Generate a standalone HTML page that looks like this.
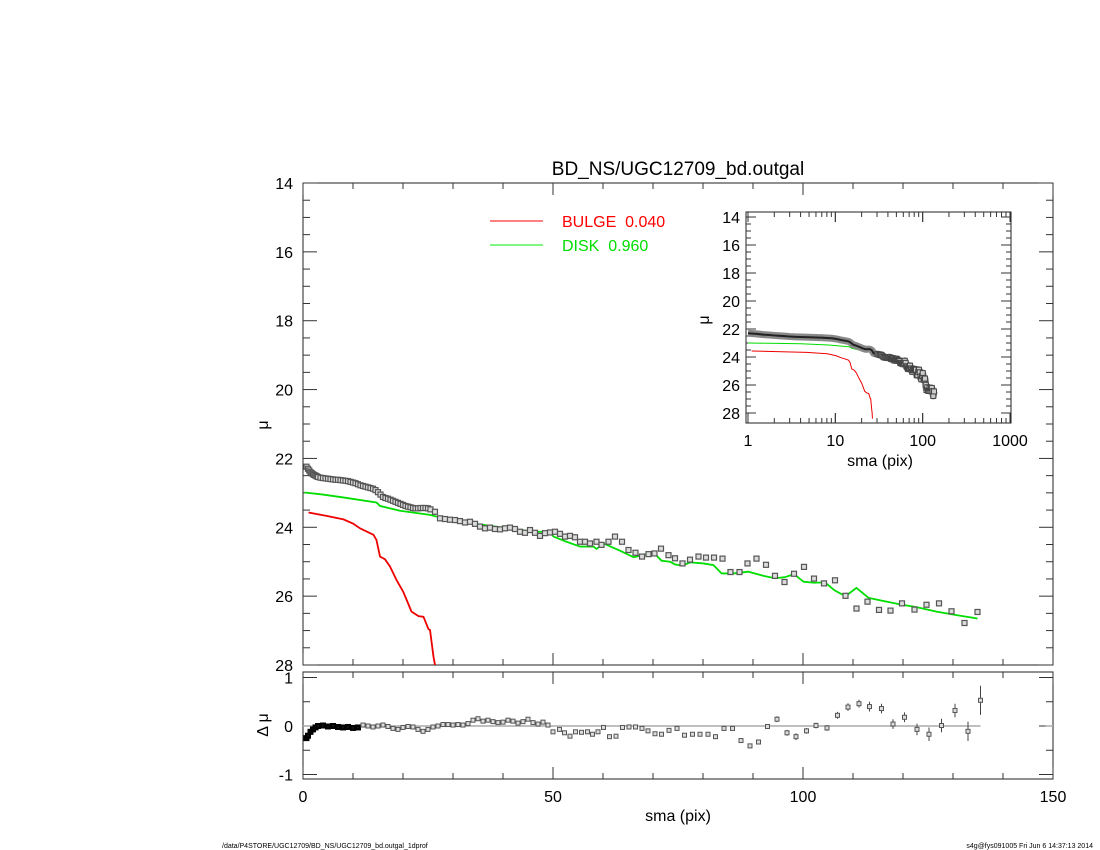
<!DOCTYPE html>
<html><head><meta charset="utf-8">
<style>
html,body{margin:0;padding:0;background:#fff;}
svg{display:block;font-family:"Liberation Sans",sans-serif;}
</style></head>
<body>
<svg id="chart" width="1100" height="850" viewBox="0 0 1100 850" xmlns="http://www.w3.org/2000/svg">
<rect x="0" y="0" width="1100" height="850" fill="#fff"/>
<text x="678" y="175" font-size="19" text-anchor="middle">BD_NS/UGC12709_bd.outgal</text>
<g id="main"></g>
<g id="resid"></g>
<g id="inset"></g>
<line x1="490" y1="221" x2="543" y2="221" stroke="#ff0000" stroke-width="1"/>
<text x="562" y="227" font-size="16" fill="#ff0000">BULGE&#160;&#160;0.040</text>
<line x1="490" y1="245" x2="543" y2="245" stroke="#00ee00" stroke-width="1"/>
<text x="562" y="251" font-size="16" fill="#00dd00">DISK&#160;&#160;0.960</text>
<text transform="translate(268,425) rotate(-90)" font-size="16" text-anchor="middle">μ</text>
<text transform="translate(268,725) rotate(-90)" font-size="16" text-anchor="middle">Δ μ</text>
<text x="678" y="821" font-size="16" text-anchor="middle">sma (pix)</text>
<text x="880" y="466" font-size="16" text-anchor="middle">sma (pix)</text>
<text transform="translate(709,320) rotate(-90)" font-size="16" text-anchor="middle">μ</text>
<text x="222" y="848" font-size="7">/data/P4STORE/UGC12709/BD_NS/UGC12709_bd.outgal_1dprof</text>
<text x="1093" y="848" font-size="7" text-anchor="end">s4g@fys091005  Fri Jun  6 14:37:13 2014</text>
</svg>
<script>
const obsX=[0.7,1,1.25,1.5,1.75,2,2.25,2.5,2.75,3,3.5,4,4.5,5,5.5,6,6.5,7,7.5,8,8.5,9,9.5,10,10.5,11,11.5,12,12.5,13,13.5,14,14.5,15,15.5,16,16.5,17,17.5,18,18.5,19,19.5,20,20.5,21,21.5,22,22.5,23,23.5,24,24.5,25,25.5,26.4,27.4,28.4,29.4,30.4,31.4,32.4,33.4,34.4,35.4,36.4,37.4,38.4,39.4,40.4,41.4,42.4,43.4,44.4,45.4,46.4,47.4,48.4,49.4,50.4,51.4,52.4,53.4,54.4,55.4,56.4,57.4,58.7,59.7,61.1,62.4,63.8,65.1,66.5,67.8,69.1,70.3,71.6,73.1,74.4,75.9,77.4,79.1,80.6,82.2,83.9,85.5,87.3,88.9,90.7,92.6,94.4,96.3,98.2,100.2,102.2,104.2,106.4,108.5,110.7,112.9,115.2,117.5,119.8,122.3,124.7,127.2,129.7,132.3,134.9];
const obsMu=[22.24,22.3,22.35,22.4,22.43,22.46,22.48,22.5,22.52,22.54,22.56,22.57,22.58,22.59,22.6,22.61,22.62,22.62,22.63,22.64,22.65,22.66,22.68,22.7,22.72,22.75,22.78,22.8,22.82,22.84,22.86,22.88,22.92,22.98,23.05,23.12,23.15,23.17,23.2,23.23,23.26,23.29,23.32,23.35,23.38,23.4,23.42,23.44,23.45,23.45,23.44,23.44,23.44,23.45,23.48,23.55,23.74,23.76,23.78,23.79,23.82,23.86,23.84,23.9,23.98,24.03,24.01,24.05,24.06,24.03,24.01,24.05,24.13,24.16,24.08,24.16,24.25,24.17,24.15,24.13,24.19,24.27,24.25,24.29,24.42,24.42,24.47,24.42,24.51,24.42,24.27,24.42,24.66,24.74,24.85,24.78,24.76,24.62,24.81,24.9,25.05,24.94,24.85,24.88,24.88,24.91,25.3,25.3,25.05,24.91,25.09,25.41,25.59,25.35,25.15,25.49,25.63,25.54,25.99,26.36,26.16,26.4,26.42,26.21,26.39,26.25,26.21,26.44,26.78,26.46,27.12];
const diskX=[0.3,1,4,8.4,14.7,15.4,19.4,25.4,29.4,39.4,46.1,49.4,50.1,52.7,55.4,58.1,58.7,60.1,63.4,66.1,69.4,70.4,71.7,73.4,74.4,75.9,77.4,80.1,82.1,83.7,86.1,89.1,92.1,94.4,96.4,98.2,100.1,102.2,104.4,106.4,108.5,110.7,113.1,116.1,119.4,122.7,126.7,130.7,134.9];
const diskMu=[22.99,23.0,23.05,23.14,23.28,23.38,23.52,23.64,23.79,24.0,24.13,24.13,24.27,24.42,24.56,24.56,24.63,24.47,24.68,24.87,24.76,24.78,24.97,25.0,25.08,25.11,25.02,25.05,25.1,25.34,25.34,25.29,25.41,25.48,25.45,25.36,25.58,25.61,25.6,25.84,26.0,25.76,26.05,26.14,26.24,26.32,26.45,26.55,26.65];
const bulgeX=[1.1,4.7,8.1,10.1,11.4,14.1,14.7,15.4,16.4,17.4,18.7,20.1,21.7,23.1,24.1,25.1,25.4,26.1,26.4,26.6];
const bulgeMu=[23.57,23.67,23.77,23.9,24.03,24.22,24.37,24.85,24.93,25.14,25.53,25.89,26.45,26.58,26.6,26.96,26.98,27.76,28.0,28.4];
const resX=[0.7,1,1.5,2,2.5,3,4,5,6,7,8,9,10,11,12,13,14,15,16,17,18,19,20,21,22,23,24,25,26,27,28,29,30,31,32,33,34,35,36,37,38,39,40,41,42,43,44,45,46,47,48,49,50,51.3,52.3,53.4,54.5,55.7,56.9,57.9,59,60.1,61.3,62.6,63.9,65.2,66.5,67.8,69,70.4,71.7,73.2,74.8,76.3,77.9,79.4,81,82.5,84.2,85.9,87.6,89.4,91.1,92.9,94.8,96.8,98.6,100.7,102.6,104.8,106.9,109,111.2,113.3,115.7,118,120.3,122.8,125.2,127.7,130.4,133,135.5];
const resV=[-0.25,-0.2,-0.12,-0.07,-0.03,0,0.01,-0.01,0,-0.02,-0.03,-0.02,-0.04,-0.03,0.02,0,-0.02,0,0.02,-0.01,-0.05,-0.07,-0.03,-0.01,-0.02,-0.07,-0.11,-0.07,-0.02,0,0.03,0.03,0.02,0.03,0.02,0.05,0.12,0.15,0.1,0.12,0.09,0.07,0.08,0.12,0.1,0.06,0.09,0.14,0.07,0.04,0.08,0.02,-0.12,-0.07,-0.14,-0.21,-0.12,-0.13,-0.12,-0.17,-0.12,-0.03,-0.22,-0.21,-0.03,-0.02,-0.02,-0.05,-0.1,-0.16,-0.17,-0.09,-0.05,-0.19,-0.17,-0.17,-0.17,-0.22,-0.05,-0.05,-0.3,-0.41,-0.33,-0.01,0.14,-0.14,-0.22,-0.1,0.01,-0.04,0.22,0.39,0.46,0.4,0.36,0.04,0.18,-0.07,-0.17,0.01,0.32,-0.11,0.53];
const resE=[0,0,0,0,0,0,0,0,0,0,0,0,0,0,0,0,0,0,0,0,0,0,0,0,0,0,0,0,0,0,0,0,0,0,0,0,0,0,0,0,0,0,0,0,0,0,0,0,0,0,0,0,0.02,0.02,0.02,0.02,0.02,0.02,0.02,0.02,0.02,0.02,0.02,0.02,0.02,0.02,0.02,0.02,0.02,0.02,0.02,0.02,0.02,0.02,0.02,0.02,0.02,0.02,0.03,0.03,0.05,0.05,0.05,0.05,0.06,0.06,0.07,0.06,0.06,0.06,0.07,0.08,0.08,0.1,0.1,0.1,0.1,0.12,0.14,0.14,0.14,0.2,0.3];
const mainYTicks=[14,16,18,20,22,24,26,28];
const mainXTicks=[0,50,100,150];
const resYTicks=[1,0,-1];
const insetXTicks=[1,10,100,1000];

const NS="http://www.w3.org/2000/svg";
function mk(parent,tag,attrs){const e=document.createElementNS(NS,tag);for(const k in attrs)e.setAttribute(k,attrs[k]);parent.appendChild(e);return e;}
const L=303,R=1053,T=183,B=665;
const sx=v=>L+(v-0)/150*(R-L);
const sy=v=>T+(v-14)/14*(B-T);
const RT=672,RB=779;
const ry=v=>726-v*48.5;
const IL=746,IR=1011,IT=212,IB=423;
const ix=v=>IL+2+Math.log10(v)/3*(IR-IL-3);
const iy=v=>217+(v-14)*14;

const gm=document.getElementById('main');
const gr=document.getElementById('resid');
const gi=document.getElementById('inset');

function frame(g,x1,y1,x2,y2,name){const r=mk(g,'rect',{x:x1,y:y1,width:x2-x1,height:y2-y1,fill:'none',stroke:'#222','stroke-width':1});

}
frame(gm,L,T,R,B,'main-plot-frame');
frame(gr,L,RT,R,RB,'residual-plot-frame');
frame(gi,IL,IT,IR,IB,'inset-plot-frame');

function tick(g,x1,y1,x2,y2){mk(g,'line',{x1,y1,x2,y2,stroke:'#333','stroke-width':1});}
for(let v=0;v<=150;v+=10){const x=sx(v);const len=v%50===0?12:6;
 tick(gm,x,B,x,B-len);tick(gm,x,T,x,T+len);tick(gr,x,RB,x,RB-len);tick(gr,x,RT,x,RT+len);}
mainXTicks.forEach(v=>{const t=mk(gm,'text',{x:sx(v),y:802,'font-size':16,'text-anchor':'middle'});t.textContent=v;

});
for(let v=14;v<=28.001;v+=0.5){const y=sy(v);const len=(Math.abs(v%2)<0.01)?14:7;tick(gm,L,y,L+len,y);tick(gm,R,y,R-len,y);}
mainYTicks.forEach(v=>{const t=mk(gm,'text',{x:293,y:sy(v)+6,'font-size':16,'text-anchor':'end'});t.textContent=v;

});
for(let v=-1;v<=1.001;v+=0.5){const y=ry(v);const len=(Math.abs(v%1)<0.01)?14:7;tick(gr,L,y,L+len,y);tick(gr,R,y,R-len,y);}
resYTicks.forEach(v=>{const t=mk(gr,'text',{x:293,y:ry(v)+6,'font-size':16,'text-anchor':'end'});t.textContent=v===-1?'-1':v;

});
const zl=mk(gr,'line',{x1:sx(0),y1:ry(0),x2:sx(135.5),y2:ry(0),stroke:'#aaa','stroke-width':1.5});


mk(gr,'line',{x1:sx(148.5),y1:ry(0),x2:sx(150),y2:ry(0),stroke:'#aaa','stroke-width':1.5});

const defs=mk(document.getElementById('chart'),'defs',{});
const cp=mk(defs,'clipPath',{id:'cm'});mk(cp,'rect',{x:L,y:T,width:R-L,height:B-T});
const cp2=mk(defs,'clipPath',{id:'ci'});mk(cp2,'rect',{x:IL,y:IT,width:IR-IL,height:IB-IT});

function poly(g,xs,ys,fx,fy,color,w,name,clip){const p=mk(g,'polyline',{points:xs.map((x,i)=>fx(x)+','+fy(ys[i])).join(' '),fill:'none',stroke:color,'stroke-width':w,'stroke-linejoin':'round','clip-path':'url(#'+clip+')'});


return p;}
poly(gm,diskX,diskMu,sx,sy,'#00dd00',1.8,'disk-model-line','cm');
poly(gm,bulgeX,bulgeMu,sx,sy,'#ee0000',1.8,'bulge-model-line','cm');
obsX.forEach((x,i)=>{const r=mk(gm,'rect',{x:sx(x)-2.5,y:sy(obsMu[i])-2.5,width:5,height:5,fill:'#ddd',stroke:'#555','stroke-width':1.2,'clip-path':'url(#cm)'});

});
resX.forEach((x,i)=>{const X=sx(x),Y=ry(resV[i]);
 if(resE[i]>0){const e=mk(gr,'line',{x1:X,y1:ry(resV[i]+resE[i]),x2:X,y2:ry(resV[i]-resE[i]),stroke:'#444','stroke-width':1});
 
 }
 const dense=x<12;
 const r=mk(gr,'rect',{x:X-2,y:Y-2,width:4,height:4,fill:dense?'#111':'#ddd',stroke:dense?'#000':'#555','stroke-width':dense?2:1});
 
 });

// inset
[1,10,100].forEach(d=>{for(let m=1;m<=10;m++){const v=d*m;const x=ix(v);const len=m===1||m===10?10:5;tick(gi,x,IB,x,IB-len);tick(gi,x,IT,x,IT+len);}});
insetXTicks.forEach(v=>{const t=mk(gi,'text',{x:ix(v),y:446,'font-size':16,'text-anchor':'middle'});t.textContent=v;

});
for(let v=14;v<=28.001;v+=0.5){const y=iy(v);const len=(Math.abs(v%2)<0.01)?10:5;tick(gi,IL,y,IL+len,y);tick(gi,IR,y,IR-len,y);}
mainYTicks.forEach(v=>{const t=mk(gi,'text',{x:740,y:iy(v)+6,'font-size':16,'text-anchor':'end'});t.textContent=v;

});
poly(gi,diskX.filter(x=>x>=1),diskMu.filter((m,i)=>diskX[i]>=1),ix,iy,'#00dd00',1,'inset-disk-line','ci');
poly(gi,bulgeX,bulgeMu,ix,iy,'#ee0000',1,'inset-bulge-line','ci');
const ixs=obsX.filter(x=>x>=1), ims=obsMu.filter((m,i)=>obsX[i]>=1);
poly(gi,ixs,ims,ix,iy,'#888',7,'inset-observed-band','ci');
poly(gi,ixs,ims,ix,iy,'#222',2,'inset-observed-core','ci');
ixs.forEach((x,i)=>{if(x<30)return;const r=mk(gi,'rect',{x:ix(x)-2.5,y:iy(ims[i])-2.5,width:5,height:5,fill:'#ccc',stroke:'#444','stroke-width':1,'clip-path':'url(#ci)'});

});
</script>
</body></html>
